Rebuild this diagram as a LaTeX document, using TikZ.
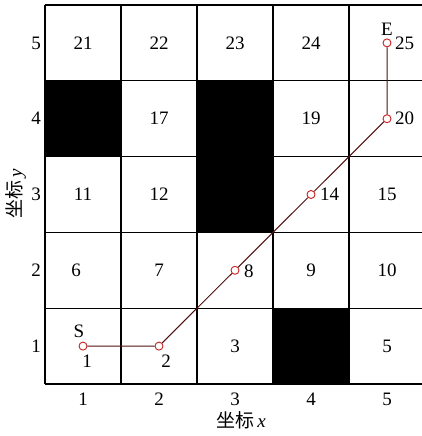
\documentclass[tikz,border=0pt]{standalone}
\usepackage{fontspec}
\setmainfont{Liberation Serif}
\newfontfamily\cjk{Noto Sans CJK SC}
\definecolor{pathline}{RGB}{80,15,15}
\definecolor{ptred}{RGB}{200,30,30}
\begin{document}
\begin{tikzpicture}[x=1pt,y=-1pt,
  gridline/.style={line width=1.3pt,black},
  blk/.style={fill=black},
  num/.style={font=\fontsize{19}{19}\selectfont,inner sep=0pt},
  tick/.style={font=\fontsize{19}{19}\selectfont,inner sep=0pt},
  axtitle/.style={font=\fontsize{19}{19}\selectfont,inner sep=0pt},
  waypt/.style={circle,draw=ptred,line width=0.9pt,minimum size=8pt,inner sep=0pt},
  route/.style={draw=pathline,line width=1pt}]
\useasboundingbox (0,0) rectangle (422,436);
% black cells
\fill[blk] (45,80.8) rectangle (121,156.6);
\fill[blk] (197,80.8) rectangle (273,232.4);
\fill[blk] (273,308.2) rectangle (349,384);
% grid
\foreach \i in {0,...,5} {
  \draw[gridline] ({45+76*\i},5) -- ({45+76*\i},384);
  \draw[gridline] (45,{5+75.8*\i}) -- (425,{5+75.8*\i});
}
% numbers in cells (non-path)
\foreach \n/\c/\r in {3/3/1,5/5/1,7/2/2,9/4/2,10/5/2,11/1/3,12/2/3,15/5/3,17/2/4,19/4/4,21/1/5,22/2/5,23/3/5,24/4/5} {
  \node[num] (n\n) at ({7+76*\c},{421.9-75.8*\r}) {\n};
}
\node[num] (n6) at (76,270.7) {6};
% path points
\node[waypt] (p1) at (83,346.1) {};
\node[waypt] (p2) at (159,346.1) {};
\node[waypt] (p8) at (235,270.3) {};
\node[waypt] (p14) at (311,194.5) {};
\node[waypt] (p20) at (387,118.7) {};
\node[waypt] (p25) at (387,42.9) {};
\draw[route] (p1) -- (p2) -- (p8) -- (p14) -- (p20) -- (p25);
% path labels
\node[num] (l1) at (87,361) {1};
\node[num] (l2) at (166,361) {2};
\node[num] (lS) at (79,331) {S};
\node[num,anchor=west] (l8) at (244,271) {8};
\node[num,anchor=west] (l14) at (320,194.5) {14};
\node[num,anchor=west] (l20) at (395,118.7) {20};
\node[num,anchor=west] (l25) at (395,42.9) {25};
\node[num] (lE) at (387,29) {E};
% ticks
\foreach \i in {1,...,5} {
  \node[tick] (tx\i) at ({7+76*\i},399) {\i};
  \node[tick] (ty\i) at (36,{421.9-75.8*\i}) {\i};
}
\node[axtitle] (xt) at (241,420) {{\cjk 坐标}\,\textit{x}};
\node[axtitle,rotate=90] (yt) at (16,194) {{\cjk 坐标}\,\textit{y}};
\end{tikzpicture}
\end{document}
